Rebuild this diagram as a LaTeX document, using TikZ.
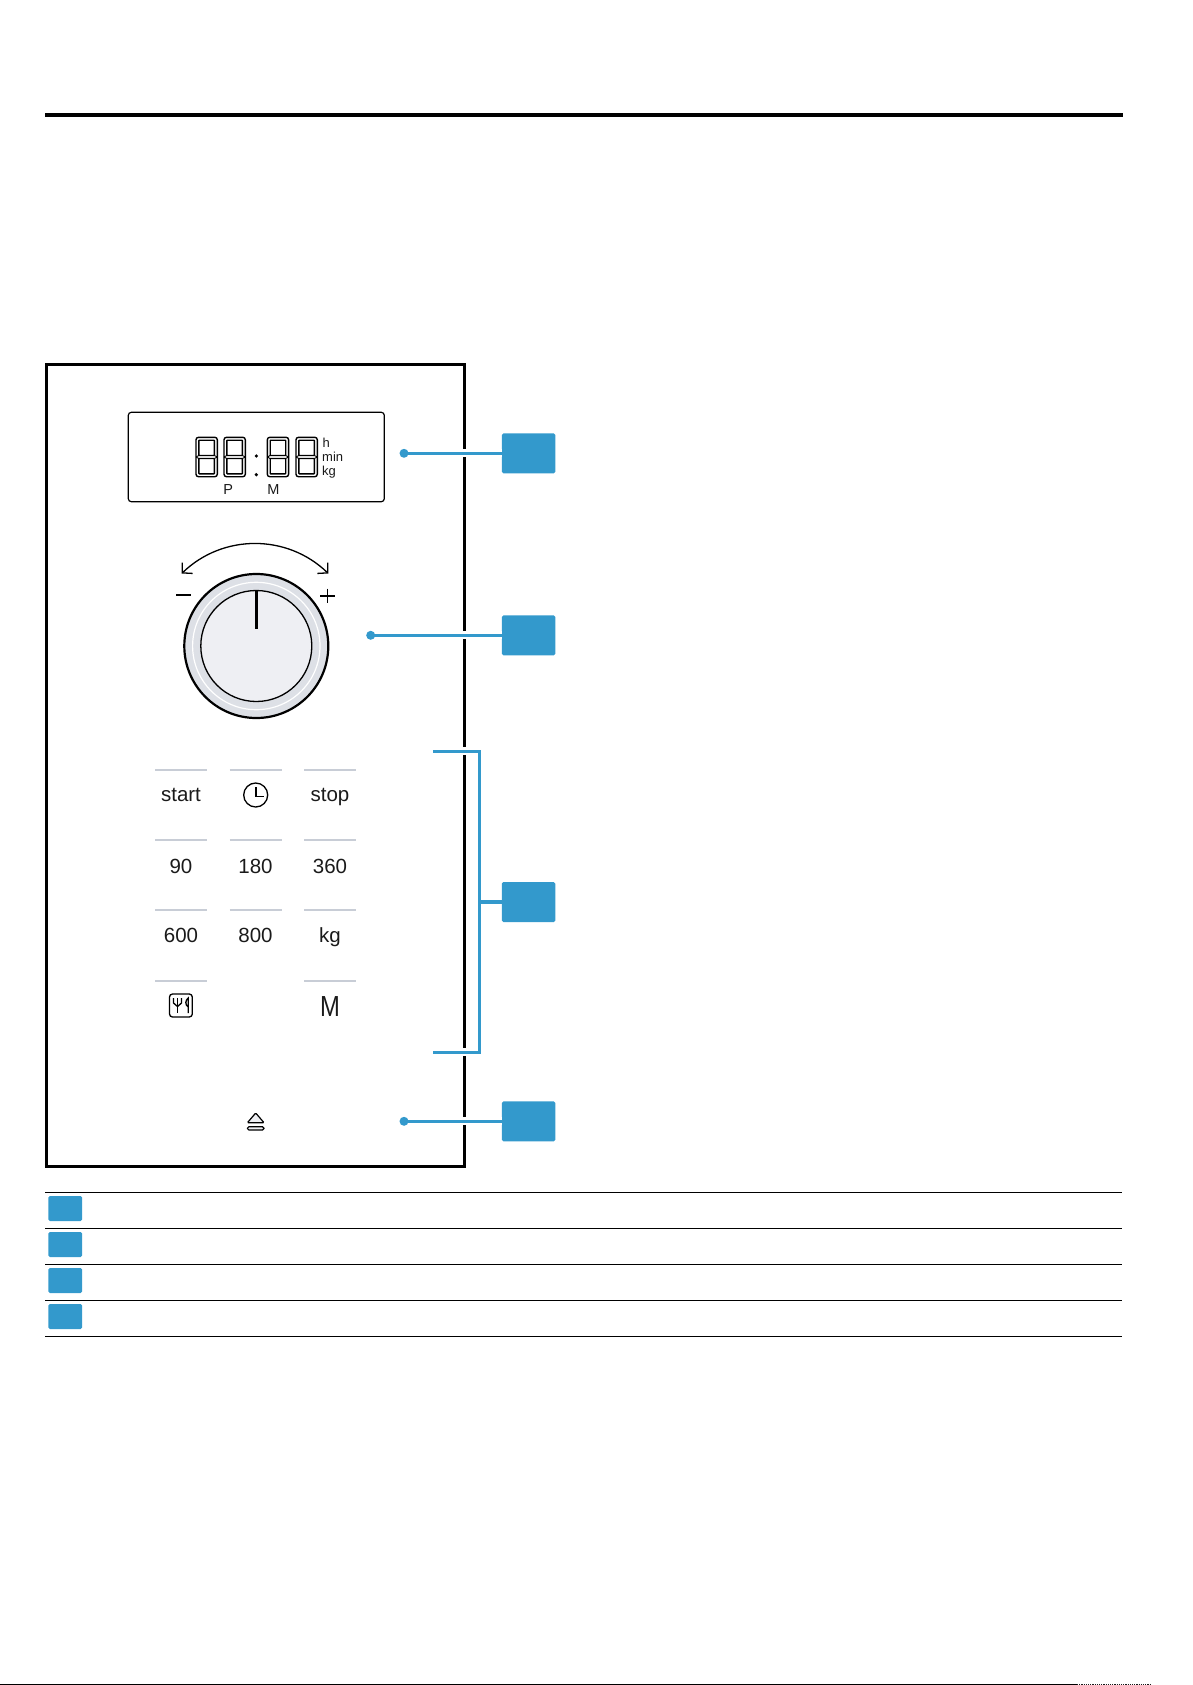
\documentclass[tikz,border=0pt]{standalone}
\usepackage{fontspec}
\setmainfont{Liberation Sans}
\usetikzlibrary{positioning,calc,arrows,arrows.meta}

\definecolor{keyblue}{HTML}{3399CC}
\definecolor{keyrule}{HTML}{C8CDD6}
\definecolor{ringgray}{HTML}{DDE0E6}
\definecolor{facegray}{HTML}{EEEFF3}
\definecolor{inkgray}{HTML}{1A1A1A}

% one display digit, #1 and #2 are its upper left corner
\newcommand{\lcddigit}[2]{
	\begin{scope}[shift={(#1,#2)}, line width=1.4pt]
		\draw [rounded corners=2.5pt] (0,0) rectangle (21.3,39.4);
		\draw [rounded corners=0.5pt] (2.9,2.9) rectangle (18.4,18.2);
		\draw [rounded corners=0.5pt] (2.9,21.2) rectangle (18.4,36.5);
		\draw [line width=0.9pt] (0,19.7) -- (2.9,18.2);
		\draw [line width=0.9pt] (21.3,19.7) -- (18.4,18.2);
		\draw [line width=0.9pt] (0,19.7) -- (2.9,21.2);
		\draw [line width=0.9pt] (21.3,19.7) -- (18.4,21.2);
	\end{scope}
}

\begin{document}
\begin{tikzpicture}[x=1pt, y=-1pt]
	\useasboundingbox (0,0) rectangle (1192,1685);
	\begin{scope}
		\tikzstyle{every node}=[align=center, inner sep=0pt, text=inkgray]
		\tikzstyle{keylabel}=[anchor=base, font=\fontsize{20.5}{24}\selectfont]
		\tikzstyle{lcdlabel}=[font=\fontsize{13}{15}\selectfont]
		\tikzstyle{keybox}=[fill=keyblue, rounded corners=1.5pt, minimum width=53.3pt, minimum height=40pt]
		\tikzstyle{rowbox}=[fill=keyblue, rounded corners=1.5pt, minimum width=33.7pt, minimum height=25pt]
		\tikzstyle{leaderdot}=[circle, fill=keyblue, minimum size=9pt]
		\tikzstyle{leader}=[draw=keyblue, line width=2.8pt, preaction={draw=white, line width=8pt}]
		\tikzstyle{keyline}=[draw=keyrule, line width=1.8pt]
		\tikzstyle{rowline}=[draw=black, line width=1.6pt]

		% page rules
		\draw [line width=4.2pt] (45,115.2) -- (1123,115.2);
		\draw [line width=1.2pt] (0,1684.5) -- (1077,1684.5);
		\draw [line width=1.2pt, densely dotted, inkgray] (1077,1684.5) -- (1150.5,1684.5);

		% panel frame
		\draw [line width=3.3pt] (46.8,364.5) rectangle (464.4,1166.4);

		% display
		\draw [line width=1.2pt, rounded corners=3pt] (128.3,412.3) rectangle (384.3,501.7);
		\lcddigit{196}{437.3}
		\lcddigit{224}{437.3}
		\lcddigit{267.3}{437.3}
		\lcddigit{296}{437.3}
		\fill (256.3,456) circle (1.8pt);
		\fill (256.3,474.7) circle (1.8pt);
		\node [lcdlabel, anchor=west] (h)   at (322.5,442.5) {h};
		\node [lcdlabel, anchor=west] (min) at (322,457)   {min};
		\node [lcdlabel, anchor=west] (kg)  at (322,472) {kg};
		\node [lcdlabel, font=\fontsize{14.5}{15}\selectfont] (p) at (228.3,489.5) {P};
		\node [lcdlabel, font=\fontsize{14.5}{15}\selectfont] (m) at (273.3,489.5) {M};

		% knob
		\fill [ringgray] (256.3,646) circle (72pt);
		\draw [white, line width=1.2pt] (256.3,646) circle (63.7pt);
		\draw [line width=2.2pt] (256.3,646) circle (72pt);
		\draw [line width=1.3pt, fill=facegray] (256.3,646) circle (55.5pt);
		\draw [line width=2.4pt] (256.3,590.7) -- (256.3,629.3);
		\coordinate (arcl) at (181.7,573.5);
		\coordinate (arcr) at (328.3,573.5);
		\draw [<->, >={Straight Barb[length=7pt,width=15pt,line width=1.3pt]}, line width=1.3pt] (arcl) to[bend left=44] (arcr);
		\draw [line width=1.3pt] (176,595) -- (190.7,595);
		\draw [line width=1.3pt] (320,596) -- (334.6,596);
		\draw [line width=1.3pt] (327.3,588.7) -- (327.3,603.3);

		% keys
		\draw [keyline] (155,770.3) -- (206.7,770.3);
		\draw [keyline] (229.7,770.3) -- (281.7,770.3);
		\draw [keyline] (304,770.3) -- (356,770.3);
		\draw [keyline] (155,840.3) -- (206.7,840.3);
		\draw [keyline] (229.7,840.3) -- (281.7,840.3);
		\draw [keyline] (304,840.3) -- (356,840.3);
		\draw [keyline] (155,910.3) -- (206.7,910.3);
		\draw [keyline] (229.7,910.3) -- (281.7,910.3);
		\draw [keyline] (304,910.3) -- (356,910.3);
		\draw [keyline] (155,980.6) -- (206.7,980.6);
		\draw [keyline] (304,980.6) -- (356,980.6);

		\node [keylabel] (start) at (181,801)   {start};
		\node [keylabel] (stop)  at (330,801)   {stop};
		\node [keylabel] (k90)   at (181,873) {90};
		\node [keylabel] (k180)  at (255.5,873) {180};
		\node [keylabel] (k360)  at (330,873) {360};
		\node [keylabel] (k600)  at (181,942.5) {600};
		\node [keylabel] (k800)  at (255.5,942.5) {800};
		\node [keylabel] (kkg)   at (330,942.5)   {kg};
		\node [anchor=base, font=\fontsize{29}{30}\selectfont, xscale=0.82, transform shape] (km) at (330,1016) {M};

		% clock icon
		\draw [line width=1.3pt] (255.7,795) circle (12pt);
		\draw [line width=1.3pt] (256,787) -- (256,796.3) -- (263.5,796.3);

		% cutlery icon
		\draw [line width=1.3pt, rounded corners=3pt] (169.5,994) rectangle (192.3,1017);
		\draw [line width=1.3pt] (173.5,998) -- (173.5,1003) -- (177.5,1006.5) -- (181.5,1003) -- (181.5,998);
		\draw [line width=1.3pt] (177.5,998) -- (177.5,1013);
		\draw [line width=1.3pt] (188.3,1013) -- (188.3,998) .. controls (185.2,1000) and (184.8,1005) .. (188.3,1007);

		% door button
		\draw [line width=1.2pt, rounded corners=1pt, fill=facegray] (255.7,1113) -- (264,1122.7) -- (247.4,1122.7) -- cycle;
		\draw [line width=1.2pt, rounded corners=1.5pt, fill=facegray] (247.4,1126.7) rectangle (264,1130);

		% callouts
		\node [keybox] (key1) at (528.6,453.3) {};
		\node [keybox] (key2) at (528.6,635.3) {};
		\node [keybox] (key3) at (528.6,902) {};
		\node [keybox] (key4) at (528.6,1121.3) {};
		\coordinate (end1) at (404,453.3);
		\coordinate (end2) at (370.7,635.3);
		\coordinate (end4) at (404,1121.3);
		\coordinate (bracktop) at (433.3,751.3);
		\coordinate (brackbot) at (433.3,1052.3);
		\coordinate (brackmid) at (479.7,902);

		\draw [leader] (end1) to (key1);
		\draw [leader] (end2) to (key2);
		\draw [leader] (end4) to (key4);
		\draw [leader] (bracktop) -| (brackmid) |- (brackbot);
		\draw [draw=keyblue, line width=3.6pt] (brackmid) to (key3);
		\node [leaderdot] (dot1) at (end1) {};
		\node [leaderdot] (dot2) at (end2) {};
		\node [leaderdot] (dot4) at (end4) {};

		% legend
		\draw [rowline] (45,1192.3) -- (1122,1192.3);
		\draw [rowline] (45,1228.3) -- (1122,1228.3);
		\draw [rowline] (45,1264.3) -- (1122,1264.3);
		\draw [rowline] (45,1300.3) -- (1122,1300.3);
		\draw [rowline] (45,1336.3) -- (1122,1336.3);
		\node [rowbox] (row1) at (65.2,1208.5) {};
		\node [rowbox] (row2) at (65.2,1244.5) {};
		\node [rowbox] (row3) at (65.2,1280.5) {};
		\node [rowbox] (row4) at (65.2,1316.5) {};
	\end{scope}
\end{tikzpicture}
\end{document}
